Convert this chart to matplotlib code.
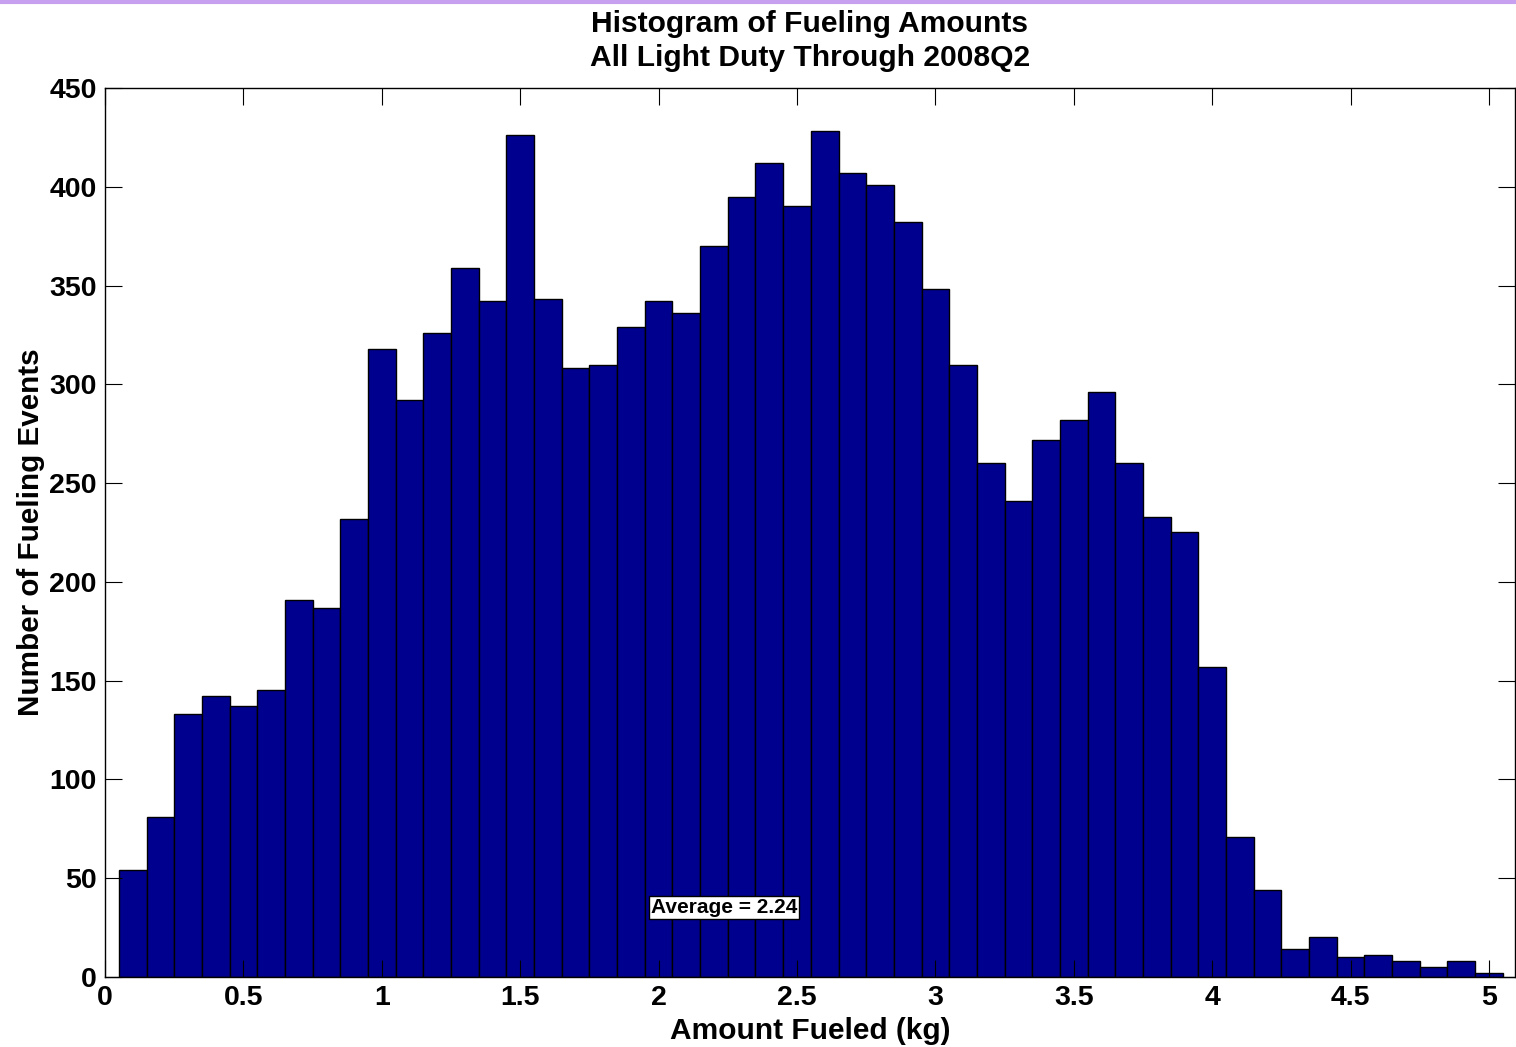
import numpy as np
import matplotlib.pyplot as plt
from matplotlib.lines import Line2D

# ---------------- DATA ---------------- #

bin_centers = [round(0.1 * i, 1) for i in range(1, 51)]
counts = [54, 81, 133, 142, 137, 145, 191, 187, 232, 318,
          292, 326, 359, 342, 426, 343, 308, 310, 329, 342,
          336, 370, 395, 412, 390, 428, 407, 401, 382, 348,
          310, 260, 241, 272, 282, 296, 260, 233, 225, 157,
          71, 44, 14, 20, 10, 11, 8, 5, 8, 2]
xticks = [0, 0.5, 1, 1.5, 2, 2.5, 3, 3.5, 4, 4.5, 5]
xtick_labels = ["0", "0.5", "1", "1.5", "2", "2.5", "3", "3.5", "4", "4.5", "5"]
yticks = list(range(0, 451, 50))
average = 2.24

# ---------------- PLOT ---------------- #

plt.rcParams['font.family'] = ['Liberation Sans', 'DejaVu Sans']
plt.rcParams['font.weight'] = 'bold'

fig = plt.figure(figsize=(15.16, 10.47), dpi=100)
ax = fig.add_axes([0.0693, 0.0669, 0.9300, 0.8491])

ax.bar(bin_centers, counts, width=0.1, color='#00008F',
       edgecolor='black', linewidth=1.0)

ax.set_xlim(0, 5.094)
ax.set_ylim(0, 450)
ax.set_xticks(xticks)
ax.set_xticklabels(xtick_labels)
ax.set_yticks(yticks)
ax.tick_params(direction='in', length=12, width=0.8, labelsize=20.5,
               top=True, right=True, pad=6)
for lab in ax.get_xticklabels() + ax.get_yticklabels():
    lab.set_fontweight('bold')
for sp in ax.spines.values():
    sp.set_linewidth(1.0)

ax.set_title("Histogram of Fueling Amounts\nAll Light Duty Through 2008Q2",
             fontsize=21.6, fontweight='bold', pad=16, linespacing=1.28)
ax.set_xlabel("Amount Fueled (kg)", fontsize=21.5, fontweight='bold', labelpad=4)
ax.set_ylabel("Number of Fueling Events", fontsize=21.3, fontweight='bold', labelpad=3)

ax.text(1.972, 35, f"Average = {average:.2f}", fontsize=15, fontweight='bold',
        va='center', ha='left',
        bbox=dict(facecolor='white', edgecolor='black', linewidth=1.0, pad=1.5))

# lavender rule along the top of the image
fig.add_artist(Line2D([0, 1], [0.998, 0.998], transform=fig.transFigure,
                      color='#C8A0F0', linewidth=3))

fig.savefig("out.png", dpi=100)
